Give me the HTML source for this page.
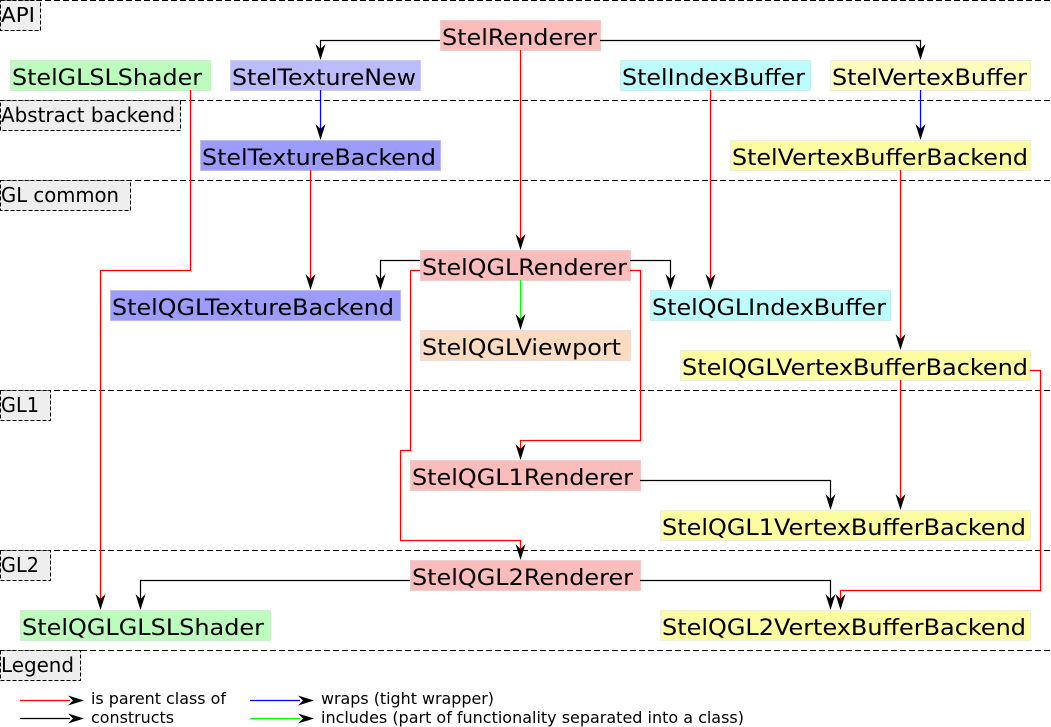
<!DOCTYPE html>
<html><head><meta charset="utf-8"><style>
html,body{margin:0;padding:0;background:#fff;}
svg{display:block;}
text{font-family:"DejaVu Sans","Liberation Sans",sans-serif;}
</style></head><body>
<svg width="1051" height="727" viewBox="0 0 1051 727" xmlns="http://www.w3.org/2000/svg">
<g stroke="#000" stroke-dasharray="6,3" stroke-width="1" fill="none">
<line x1="0" y1="0.5" x2="1051" y2="0.5"/>
<line x1="0" y1="100.5" x2="1051" y2="100.5"/>
<line x1="0" y1="180.5" x2="1051" y2="180.5"/>
<line x1="0" y1="390.5" x2="1051" y2="390.5"/>
<line x1="0" y1="550.5" x2="1051" y2="550.5"/>
<line x1="0" y1="650.5" x2="1051" y2="650.5"/>
</g>
<g stroke="#000" stroke-dasharray="4,2" fill="#eeeeee">
<rect x="0.5" y="0.5" width="40" height="30"/>
<rect x="0.5" y="100.5" width="180" height="30"/>
<rect x="0.5" y="180.5" width="130" height="30"/>
<rect x="0.5" y="390.5" width="50" height="30"/>
<rect x="0.5" y="550.5" width="50" height="30"/>
<rect x="0.5" y="650.5" width="80" height="30"/>
</g>
<g font-size="20" fill="#000">
<text x="1" y="22" textLength="34" lengthAdjust="spacingAndGlyphs">API</text>
<text x="1" y="122" textLength="174" lengthAdjust="spacingAndGlyphs">Abstract backend</text>
<text x="1" y="202" textLength="118" lengthAdjust="spacingAndGlyphs">GL common</text>
<text x="1" y="412" textLength="38" lengthAdjust="spacingAndGlyphs">GL1</text>
<text x="1" y="572" textLength="38" lengthAdjust="spacingAndGlyphs">GL2</text>
<text x="1" y="672" textLength="73" lengthAdjust="spacingAndGlyphs">Legend</text>
</g>
<g stroke-width="1">
<rect x="440.5" y="20.5" width="160" height="30" fill="#fbbcbc" stroke="#ecc"/>
<rect x="10.5" y="60.5" width="200" height="30" fill="#bcfcbc" stroke="#cec"/>
<rect x="230.5" y="60.5" width="190" height="30" fill="#bcbcfc" stroke="#cce"/>
<rect x="620.5" y="60.5" width="190" height="30" fill="#bcfcfc" stroke="#cee"/>
<rect x="830.5" y="60.5" width="200" height="30" fill="#fcfcbc" stroke="#eed"/>
<rect x="200.5" y="140.5" width="240" height="30" fill="#9c9cfc" stroke="#bbe"/>
<rect x="730.5" y="140.5" width="300" height="30" fill="#fcfca0" stroke="#eed"/>
<rect x="420.5" y="250.5" width="210" height="30" fill="#fbbcbc" stroke="#ecc"/>
<rect x="110.5" y="290.5" width="290" height="30" fill="#9c9cfc" stroke="#bbe"/>
<rect x="650.5" y="290.5" width="240" height="30" fill="#bcfcfc" stroke="#cee"/>
<rect x="420.5" y="330.5" width="210" height="30" fill="#fcdcc0" stroke="#edd"/>
<rect x="680.5" y="350.5" width="350" height="30" fill="#fcfca0" stroke="#eed"/>
<rect x="410.5" y="460.5" width="230" height="30" fill="#fbbcbc" stroke="#ecc"/>
<rect x="660.5" y="510.5" width="370" height="30" fill="#fcfca0" stroke="#eed"/>
<rect x="410.5" y="560.5" width="230" height="30" fill="#fbbcbc" stroke="#ecc"/>
<rect x="20.5" y="610.5" width="250" height="30" fill="#bcfcbc" stroke="#cec"/>
<rect x="660.5" y="610.5" width="370" height="30" fill="#fcfca0" stroke="#eed"/>
</g>
<g font-size="22" fill="#000">
<text x="442" y="45" textLength="155" lengthAdjust="spacingAndGlyphs">StelRenderer</text>
<text x="12" y="85" textLength="190" lengthAdjust="spacingAndGlyphs">StelGLSLShader</text>
<text x="232" y="85" textLength="184" lengthAdjust="spacingAndGlyphs">StelTextureNew</text>
<text x="622" y="85" textLength="183" lengthAdjust="spacingAndGlyphs">StelIndexBuffer</text>
<text x="832" y="85" textLength="195" lengthAdjust="spacingAndGlyphs">StelVertexBuffer</text>
<text x="202" y="165" textLength="234" lengthAdjust="spacingAndGlyphs">StelTextureBackend</text>
<text x="732" y="165" textLength="296" lengthAdjust="spacingAndGlyphs">StelVertexBufferBackend</text>
<text x="422" y="275" textLength="205" lengthAdjust="spacingAndGlyphs">StelQGLRenderer</text>
<text x="112" y="315" textLength="282" lengthAdjust="spacingAndGlyphs">StelQGLTextureBackend</text>
<text x="652" y="315" textLength="234" lengthAdjust="spacingAndGlyphs">StelQGLIndexBuffer</text>
<text x="422" y="355" textLength="199" lengthAdjust="spacingAndGlyphs">StelQGLViewport</text>
<text x="682" y="375" textLength="346" lengthAdjust="spacingAndGlyphs">StelQGLVertexBufferBackend</text>
<text x="412" y="485" textLength="221" lengthAdjust="spacingAndGlyphs">StelQGL1Renderer</text>
<text x="662" y="535" textLength="364" lengthAdjust="spacingAndGlyphs">StelQGL1VertexBufferBackend</text>
<text x="412" y="585" textLength="221" lengthAdjust="spacingAndGlyphs">StelQGL2Renderer</text>
<text x="22" y="635" textLength="242" lengthAdjust="spacingAndGlyphs">StelQGLGLSLShader</text>
<text x="662" y="635" textLength="364" lengthAdjust="spacingAndGlyphs">StelQGL2VertexBufferBackend</text>
</g>
<g fill="none" stroke-width="1.2">
<path d="M440 40.5H320.5V55" stroke="#000"/>
<path d="M600 40.5H920.5V55" stroke="#000"/>
<path d="M520.5 50V245" stroke="#f00"/>
<path d="M320.5 90V135" stroke="#00f"/>
<path d="M920.5 90V135" stroke="#00f"/>
<path d="M190.5 90V270.5H100.5V605" stroke="#f00"/>
<path d="M310.5 170V285" stroke="#f00"/>
<path d="M710.5 90V285" stroke="#f00"/>
<path d="M900.5 170V345" stroke="#f00"/>
<path d="M420 260.5H380.5V285" stroke="#000"/>
<path d="M630 260.5H670.5V285" stroke="#000"/>
<path d="M520.5 280V325" stroke="#0f0"/>
<path d="M630 270.5H640.5V440.5H520.5V455" stroke="#f00"/>
<path d="M420 270.5H410.5V450.5H400.5V540.5H520.5V555" stroke="#f00"/>
<path d="M900.5 380V505" stroke="#f00"/>
<path d="M1030 370.5H1040.5V590.5H840.5V605" stroke="#f00"/>
<path d="M640 480.5H830.5V505" stroke="#000"/>
<path d="M410 580.5H140.5V605" stroke="#000"/>
<path d="M640 580.5H830.5V605" stroke="#000"/>
<path d="M20 700.5H70" stroke="#f00"/>
<path d="M20 718.5H70" stroke="#000"/>
<path d="M250 700.5H300" stroke="#00f"/>
<path d="M250 718.5H300" stroke="#0f0"/>
</g>
<g fill="#000">
<path d="M320.5 60l-5-16 5 5 5-5z"/>
<path d="M920.5 60l-5-16 5 5 5-5z"/>
<path d="M520.5 250l-5-16 5 5 5-5z"/>
<path d="M320.5 140l-5-16 5 5 5-5z"/>
<path d="M920.5 140l-5-16 5 5 5-5z"/>
<path d="M100.5 610l-5-16 5 5 5-5z"/>
<path d="M310.5 290l-5-16 5 5 5-5z"/>
<path d="M710.5 290l-5-16 5 5 5-5z"/>
<path d="M900.5 350l-5-16 5 5 5-5z"/>
<path d="M380.5 290l-5-16 5 5 5-5z"/>
<path d="M670.5 290l-5-16 5 5 5-5z"/>
<path d="M520.5 330l-5-16 5 5 5-5z"/>
<path d="M520.5 460l-5-16 5 5 5-5z"/>
<path d="M520.5 560l-5-16 5 5 5-5z"/>
<path d="M900.5 510l-5-16 5 5 5-5z"/>
<path d="M840.5 610l-5-16 5 5 5-5z"/>
<path d="M830.5 510l-5-16 5 5 5-5z"/>
<path d="M140.5 610l-5-16 5 5 5-5z"/>
<path d="M830.5 610l-5-16 5 5 5-5z"/>
<path d="M84 700.5l-16-5 5 5-5 5z"/>
<path d="M84 718.5l-16-5 5 5-5 5z"/>
<path d="M314 700.5l-16-5 5 5-5 5z"/>
<path d="M314 718.5l-16-5 5 5-5 5z"/>
</g>
<g font-size="16" fill="#000">
<text x="91" y="704" textLength="135" lengthAdjust="spacingAndGlyphs">is parent class of</text>
<text x="91" y="723" textLength="83" lengthAdjust="spacingAndGlyphs">constructs</text>
<text x="321" y="704" textLength="173" lengthAdjust="spacingAndGlyphs">wraps (tight wrapper)</text>
<text x="321" y="723" textLength="423" lengthAdjust="spacingAndGlyphs">includes (part of functionality separated into a class)</text>
</g>
</svg>
</body></html>
